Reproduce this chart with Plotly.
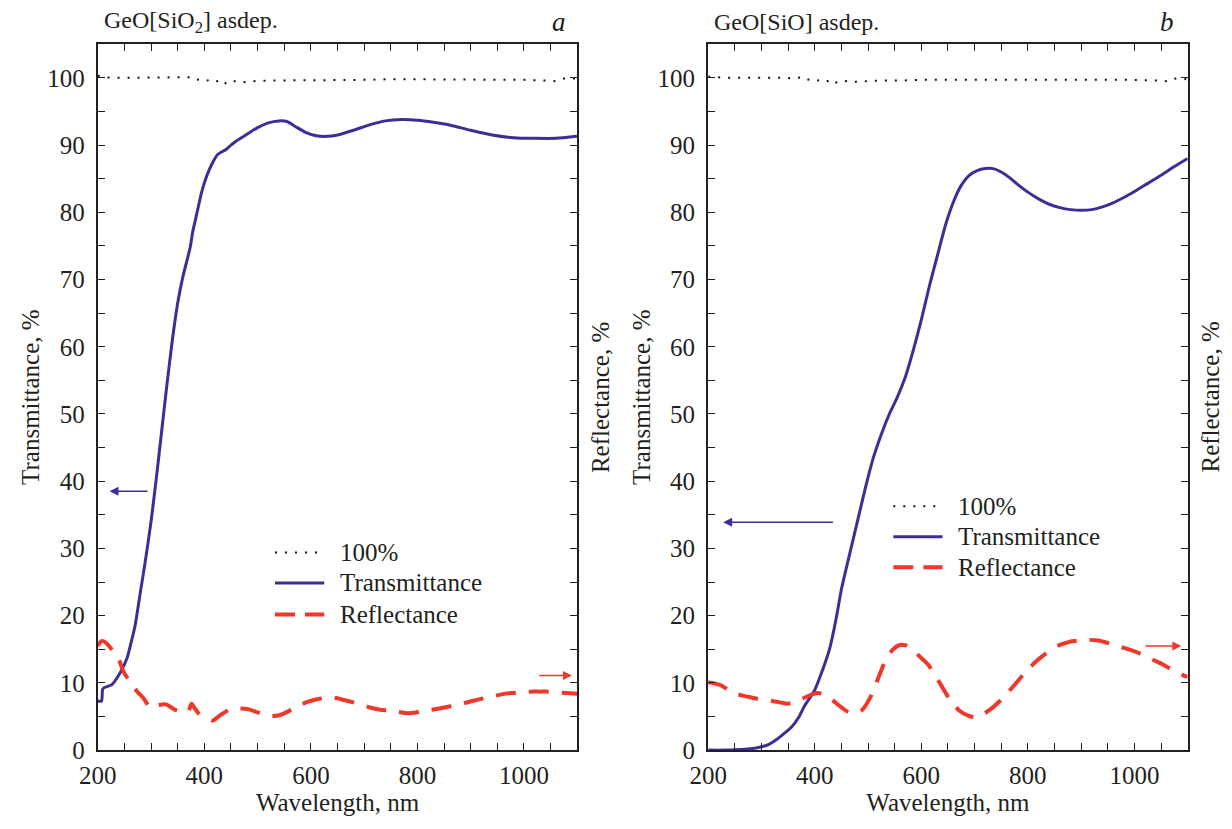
import plotly.graph_objects as go

# ---------------- data ----------------
# Panel a: GeO[SiO2] asdep.
wl_a_T = [200, 207, 209, 212, 226, 242, 255, 262, 270, 280, 290, 300, 310, 320, 330, 340, 350, 360, 368, 374, 378, 385, 395, 405, 415, 425, 440, 450, 460, 480, 500, 520, 540, 555, 570, 590, 610, 630, 650, 680, 710, 740, 770, 800, 830, 860, 900, 940, 980, 1020, 1060, 1100]
T_a = [7.3, 7.3, 9.0, 9.3, 9.7, 11.5, 13.7, 15.8, 18.5, 23.5, 28.5, 34.0, 40.5, 47.5, 54.5, 61.0, 66.5, 70.5, 73.0, 75.0, 77.0, 79.5, 83.0, 85.5, 87.3, 88.6, 89.3, 90.0, 90.6, 91.6, 92.6, 93.3, 93.6, 93.5, 92.8, 91.9, 91.4, 91.3, 91.5, 92.2, 93.0, 93.6, 93.8, 93.7, 93.4, 93.0, 92.2, 91.5, 91.1, 91.0, 91.0, 91.3]

wl_a_R = [200, 207, 215, 228, 240, 248, 260, 273, 285, 299, 314, 328, 345, 361, 370, 376, 379, 390, 405, 416, 430, 449, 465, 482, 500, 519, 535, 548, 563, 577, 595, 614, 630, 643, 660, 680, 697, 713, 730, 746, 764, 782, 797, 812, 826, 841, 860, 878, 903, 929, 947, 965, 980, 995, 1013, 1031, 1046, 1060, 1080, 1100]
R_a = [15.5, 16.2, 16.0, 14.8, 13.4, 11.7, 10.2, 8.8, 7.8, 6.3, 6.7, 6.8, 6.0, 5.6, 5.8, 6.9, 6.6, 5.4, 4.8, 4.4, 5.2, 6.1, 6.2, 6.1, 5.6, 5.1, 5.1, 5.4, 6.0, 6.6, 7.2, 7.6, 7.8, 7.8, 7.5, 7.1, 6.7, 6.3, 6.0, 5.9, 5.7, 5.5, 5.6, 5.9, 6.0, 6.2, 6.5, 6.8, 7.3, 7.8, 8.1, 8.4, 8.5, 8.6, 8.7, 8.7, 8.7, 8.6, 8.5, 8.4]

wl_100 = [200, 210, 230, 260, 290, 320, 345, 360, 375, 385, 395, 405, 415, 425, 435, 440, 450, 470, 490, 520, 560, 600, 650, 700, 750, 800, 850, 900, 950, 1000, 1040, 1060, 1075, 1085, 1100]
P100_a = [100.3, 100.1, 100.0, 100.0, 100.0, 100.1, 100.0, 100.0, 100.1, 99.7, 99.8, 99.6, 99.8, 99.5, 99.7, 99.2, 99.6, 99.3, 99.5, 99.6, 99.6, 99.7, 99.7, 99.7, 99.8, 99.8, 99.8, 99.8, 99.7, 99.7, 99.6, 99.5, 99.9, 99.9, 99.9]

# Panel b: GeO[SiO] asdep.
wl_b_T = [200, 230, 260, 280, 300, 315, 327, 340, 356, 370, 381, 399, 415, 428, 440, 450, 465, 480, 495, 510, 525, 540, 555, 570, 585, 600, 615, 630, 645, 660, 675, 690, 705, 720, 735, 750, 765, 780, 800, 820, 840, 860, 880, 900, 920, 940, 960, 980, 1000, 1025, 1050, 1075, 1100]
T_b = [0.0, 0.0, 0.1, 0.2, 0.5, 0.9, 1.5, 2.3, 3.4, 4.9, 6.6, 8.8, 12.0, 15.1, 19.5, 23.9, 29.0, 34.0, 39.0, 43.5, 47.0, 50.0, 52.5, 55.5, 59.5, 64.0, 69.0, 73.5, 78.0, 81.5, 84.0, 85.5, 86.2, 86.5, 86.5, 86.0, 85.2, 84.2, 83.0, 82.0, 81.2, 80.7, 80.4, 80.3, 80.4, 80.8, 81.4, 82.2, 83.1, 84.3, 85.5, 86.8, 88.0]

wl_b_R = [200, 207, 225, 247, 265, 283, 300, 320, 335, 349, 365, 381, 395, 406, 420, 434, 446, 460, 472, 488, 504, 518, 533, 546, 558, 570, 580, 596, 613, 633, 653, 671, 689, 700, 711, 732, 754, 776, 790, 805, 820, 834, 856, 878, 896, 914, 932, 952, 972, 993, 1015, 1036, 1052, 1066, 1080, 1095, 1100]
R_b = [10.1, 10.0, 9.6, 8.5, 8.1, 7.8, 7.5, 7.3, 7.1, 6.9, 7.2, 7.8, 8.3, 8.5, 8.2, 7.4, 6.6, 5.8, 5.4, 5.9, 7.8, 10.5, 13.4, 14.9, 15.6, 15.6, 15.1, 14.0, 12.7, 10.2, 7.6, 5.9, 5.1, 4.9, 5.1, 6.2, 7.8, 9.8, 11.1, 12.4, 13.5, 14.4, 15.5, 16.1, 16.3, 16.4, 16.3, 15.9, 15.4, 14.9, 14.2, 13.4, 12.8, 12.2, 11.7, 11.0, 10.9]

P100_b = [100.2, 100.1, 100.0, 100.0, 100.0, 100.1, 100.0, 99.9, 100.1, 99.7, 99.8, 99.6, 99.8, 99.5, 99.7, 99.3, 99.6, 99.4, 99.5, 99.6, 99.6, 99.7, 99.7, 99.7, 99.8, 99.8, 99.8, 99.8, 99.7, 99.7, 99.6, 99.5, 99.9, 99.9, 99.8]

# tick labels
x_ticks = [200, 400, 600, 800, 1000]
y_ticks = [0, 10, 20, 30, 40, 50, 60, 70, 80, 90, 100]
series_names = ["100%", "Transmittance", "Reflectance"]

# arrows: (x_tail, x_head, y) in data units
arrow_a_T = (296, 222, 38.5)
arrow_a_R = (1026, 1090, 11.1)
arrow_b_T = (437, 228, 33.9)
arrow_b_R = (1018, 1088, 15.5)

# --------------- styles ---------------
FONT = "Liberation Serif"
BLUE = "#3b2e96"
RED = "#f0372a"
BLACK = "#111111"
TXT = "#231f20"
W, H = 1232, 829

DOT = dict(color=BLACK, width=2, dash="2px,8px")
SOLID = dict(color=BLUE, width=3)
DASH = dict(color=RED, width=4, dash="20px,13px")

fig = go.Figure()

def add_panel(xa, ya, ya2, wT, T, wR, R, P):
    fig.add_trace(go.Scatter(x=wl_100, y=P, mode="lines", name=series_names[0],
                             line=DOT, xaxis=xa, yaxis=ya, showlegend=False))
    fig.add_trace(go.Scatter(x=wT, y=T, mode="lines", name=series_names[1],
                             line=dict(**SOLID, shape="spline", smoothing=0.6),
                             xaxis=xa, yaxis=ya, showlegend=False))
    fig.add_trace(go.Scatter(x=wR, y=R, mode="lines", name=series_names[2],
                             line=dict(**DASH, shape="spline", smoothing=0.6),
                             xaxis=xa, yaxis=ya2, showlegend=False))

add_panel("x", "y", "y2", wl_a_T, T_a, wl_a_R, R_a, P100_a)
add_panel("x2", "y3", "y4", wl_b_T, T_b, wl_b_R, R_b, P100_b)

A_L, A_R, B_L, B_R = 80, 567, 700, 1187
TOP, BOT = 45, 763
dom_a = [A_L / W, A_R / W]
dom_b = [B_L / W, B_R / W]
dom_y = [1 - BOT / H, 1 - TOP / H]

FS = 25
xcommon = dict(range=[200, 1100], tickmode="array", tickvals=list(range(200, 1101, 50)),
               ticktext=[str(v) if v in x_ticks else "" for v in range(200, 1101, 50)],
               ticks="inside", ticklen=7, tickwidth=1.3, tickcolor=TXT,
               showline=True, linecolor=TXT, linewidth=2.2, mirror="ticks",
               showgrid=False, zeroline=False, ticklabelstandoff=2,
               tickfont=dict(family=FONT, size=FS, color=TXT),
               title=dict(text="Wavelength, nm", font=dict(family=FONT, size=FS, color=TXT), standoff=2))
ycommon = dict(range=[0, 105], tickmode="array", tickvals=list(range(0, 101, 5)),
               ticktext=[str(v) if v in y_ticks else "" for v in range(0, 101, 5)],
               ticks="inside", ticklen=7, tickwidth=1.3, tickcolor=TXT,
               showline=True, linecolor=TXT, linewidth=2.2, mirror=True,
               showgrid=False, zeroline=False, ticklabelstandoff=6,
               tickfont=dict(family=FONT, size=FS, color=TXT),
               title=dict(text="Transmittance, %", font=dict(family=FONT, size=FS, color=TXT), standoff=0))
y2common = dict(range=[0, 105], tickmode="array", tickvals=list(range(0, 101, 5)),
                ticks="inside", ticklen=7, tickwidth=1.3, tickcolor=TXT,
                showticklabels=False, showgrid=False, zeroline=False, side="right")

fig.update_layout(
    width=W, height=H,
    margin=dict(l=0, r=0, t=0, b=0),
    paper_bgcolor="white", plot_bgcolor="white",
    font=dict(family=FONT, size=FS, color=TXT),
    xaxis=dict(domain=dom_a, anchor="y", **xcommon),
    yaxis=dict(domain=dom_y, anchor="x", **ycommon),
    yaxis2=dict(overlaying="y", anchor="x", **y2common),
    xaxis2=dict(domain=dom_b, anchor="y3", **xcommon),
    yaxis3=dict(domain=dom_y, anchor="x2", **ycommon),
    yaxis4=dict(overlaying="y3", anchor="x2", **y2common),
    showlegend=False,
)

# right-hand axis titles (Reflectance)
for xr in (A_R, B_R):
    fig.add_annotation(text="Reflectance, %", xref="paper", yref="paper",
                       x=(xr + 23) / W, y=1 - ((TOP + BOT) / 2) / H,
                       xanchor="center", yanchor="middle", textangle=-90,
                       showarrow=False, font=dict(family=FONT, size=FS, color=TXT))

# panel headers
fig.add_annotation(text="GeO[SiO<sub>2</sub>] asdep.", xref="paper", yref="paper",
                   x=84 / W, y=1 - 22 / H, xanchor="left", yanchor="middle",
                   showarrow=False, font=dict(family=FONT, size=24, color=TXT))
fig.add_annotation(text="<i>a</i>", xref="paper", yref="paper",
                   x=548 / W, y=1 - 22 / H, xanchor="center", yanchor="middle",
                   showarrow=False, font=dict(family=FONT, size=27, color=TXT))
fig.add_annotation(text="GeO[SiO] asdep.", xref="paper", yref="paper",
                   x=704 / W, y=1 - 22 / H, xanchor="left", yanchor="middle",
                   showarrow=False, font=dict(family=FONT, size=24, color=TXT))
fig.add_annotation(text="<i>b</i>", xref="paper", yref="paper",
                   x=1166 / W, y=1 - 22 / H, xanchor="center", yanchor="middle",
                   showarrow=False, font=dict(family=FONT, size=27, color=TXT))

# legends (drawn per panel)
def add_legend(x0, rows):
    styles = [DOT, dict(color=BLUE, width=3), dict(color=RED, width=4, dash="20px,10px")]
    for name, st, yrow in zip(series_names, styles, rows):
        fig.add_shape(type="line", xref="paper", yref="paper",
                      x0=x0 / W, x1=(x0 + 50) / W, y0=1 - yrow / H, y1=1 - yrow / H,
                      line=st)
        fig.add_annotation(text=name, xref="paper", yref="paper",
                           x=(x0 + 64) / W, y=1 - yrow / H, xanchor="left", yanchor="middle",
                           showarrow=False, font=dict(family=FONT, size=FS, color=TXT))

add_legend(260, [562, 593, 625])
add_legend(888, [515, 546, 577])

def add_arrow(xr, yr, arr, color):
    tail, head, yv = arr
    fig.add_annotation(x=head, y=yv, ax=tail, ay=yv, xref=xr, yref=yr, axref=xr, ayref=yr,
                       showarrow=True, arrowhead=2, arrowsize=1.2, arrowwidth=1.5,
                       arrowcolor=color, text="")

add_arrow("x", "y", arrow_a_T, BLUE)
add_arrow("x", "y", arrow_a_R, RED)
add_arrow("x2", "y3", arrow_b_T, BLUE)
add_arrow("x2", "y3", arrow_b_R, RED)

fig.write_html("out.html", config={"displayModeBar": False},
               post_script="document.body.style.margin='0';document.body.style.overflow='hidden';")
